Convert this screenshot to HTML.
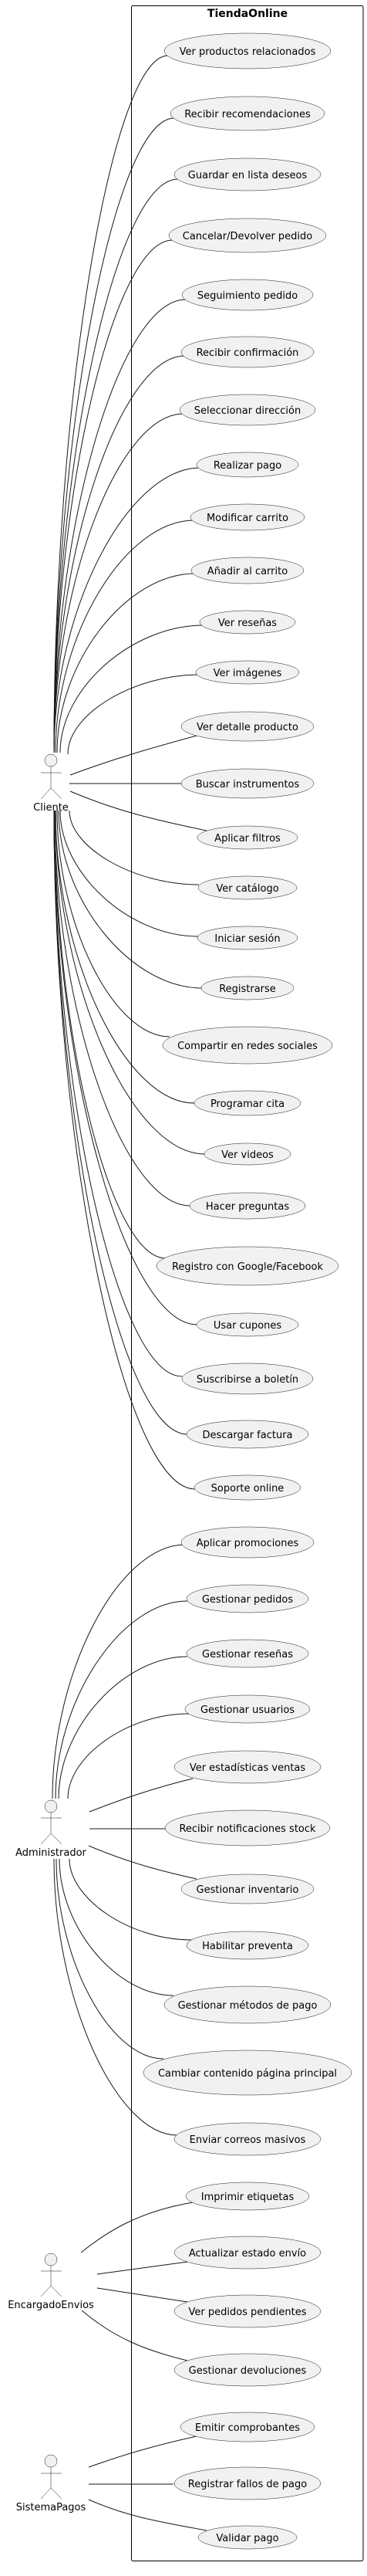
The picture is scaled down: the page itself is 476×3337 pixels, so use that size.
<!DOCTYPE html>
<html><head><meta charset="utf-8"><style>
html,body{margin:0;padding:0;background:#fff;}
svg{display:block;}
text{font-family:"DejaVu Sans","Liberation Sans",sans-serif;font-size:13px;fill:#000;}
.e{fill:#F1F1F1;stroke:#181818;stroke-width:0.5;}
.l{fill:none;stroke:#181818;stroke-width:1;}
.a{fill:none;stroke:#181818;stroke-width:0.5;}
</style></head><body>
<svg width="476" height="3337" viewBox="0 0 476 3337" xmlns="http://www.w3.org/2000/svg">
<rect x="170.5" y="7.5" width="300.5" height="3310" rx="2" fill="none" stroke="#000" stroke-width="1"/>
<text x="321" y="22" text-anchor="middle" style="font-weight:bold;font-size:14px">TiendaOnline</text>

<!-- connectors -->
<g class="l">
<path d="M70 975 C70 523 144 72 218 72"/>
<path d="M70 975 C70 564 148 153 226 153"/>
<path d="M70 975 C70 603 150 232 231 232"/>
<path d="M70 975 C70 643 147 311 224 311"/>
<path d="M70 975 C70 681 155 388 241 388"/>
<path d="M70 975 C70 718 155 461 240 461"/>
<path d="M70 975 C70 755 154 536 238 536"/>
<path d="M70 975 C70 790 165 606 260 606"/>
<path d="M72 975 C72 822 162 674 252 674"/>
<path d="M74 975 C74 859 163 743 253 743"/>
<path d="M78 975 C78 892 171 810 264 810"/>
<path d="M88 977 C88 925 173 874 259 874"/>
<path d="M91 1004 C150 982 200 968 255 953"/>
<path d="M90 1015 L235 1015"/>
<path d="M91 1025 C150 1050 200 1062 268 1076"/>
<path d="M90 1050 C90 1098 174 1146 258 1146"/>
<path d="M78 1050 C78 1131 167 1213 257 1213"/>
<path d="M76 1050 C76 1165 169 1280 262 1280"/>
<path d="M74 1050 C74 1196 147 1343 220 1343"/>
<path d="M72 1050 C72 1240 162 1429 252 1429"/>
<path d="M72 1050 C72 1272 169 1495 266 1495"/>
<path d="M71 1050 C71 1306 159 1562 247 1562"/>
<path d="M71 1050 C71 1340 143 1630 215 1630"/>
<path d="M70 1050 C70 1383 163 1716 256 1716"/>
<path d="M70 1050 C70 1416 153 1783 236 1783"/>
<path d="M70 1050 C70 1454 156 1858 243 1858"/>
<path d="M70 1050 C70 1489 161 1929 253 1929"/>

<path d="M68 2330 C68 2165 154 2001 240 2001"/>
<path d="M72 2330 C72 2202 157 2074 243 2074"/>
<path d="M76 2330 C76 2238 160 2146 243 2146"/>
<path d="M88 2330 C88 2275 166 2220 245 2220"/>
<path d="M116 2347 C160 2330 200 2316 250 2304"/>
<path d="M116 2369 L214 2369"/>
<path d="M115 2391 C160 2410 200 2422 255 2434"/>
<path d="M90 2408 C90 2460 169 2513 248 2513"/>
<path d="M77 2408 C77 2496 151 2585 225 2585"/>
<path d="M73 2408 C73 2537 142 2667 212 2667"/>
<path d="M70 2408 C70 2587 150 2766 230 2766"/>

<path d="M105 2918 C140 2890 180 2865 250 2853"/>
<path d="M126 2946 L243 2930"/>
<path d="M126 2964 L243 2982"/>
<path d="M106 2993 C150 3030 190 3045 243 3058"/>
<path d="M115 3196 C160 3180 200 3168 255 3156"/>
<path d="M115 3218 L225 3218"/>
<path d="M115 3238 C160 3258 200 3266 268 3278"/>
</g>

<!-- actors -->
<g class="a">
<circle cx="66" cy="985" r="8" fill="#F1F1F1"/>
<path d="M66 993 V1021 M53 1001 H80 M66 1021 L53 1035 M66 1021 L80 1035"/>
<circle cx="66" cy="2340" r="8" fill="#F1F1F1"/>
<path d="M66 2348 V2375 M53 2355 H80 M66 2375 L53 2389 M66 2375 L80 2389"/>
<circle cx="66" cy="2927" r="8" fill="#F1F1F1"/>
<path d="M66 2935 V2961 M53 2942 H80 M66 2961 L53 2975 M66 2961 L80 2975"/>
<circle cx="66" cy="3188" r="8" fill="#F1F1F1"/>
<path d="M66 3196 V3223 M53 3204 H80 M66 3223 L53 3237 M66 3223 L80 3237"/>
</g>
<text x="66" y="1050" text-anchor="middle">Cliente</text>
<text x="66" y="2404" text-anchor="middle">Administrador</text>
<text x="66" y="2990" text-anchor="middle">EncargadoEnvios</text>
<text x="66" y="3252" text-anchor="middle">SistemaPagos</text>

<!-- use cases -->
<g class="e">
<ellipse cx="321" cy="66" rx="108" ry="23"/>
<ellipse cx="321" cy="147" rx="100" ry="22"/>
<ellipse cx="321" cy="226" rx="95" ry="21"/>
<ellipse cx="321" cy="305" rx="102" ry="22"/>
<ellipse cx="321" cy="382" rx="85" ry="20"/>
<ellipse cx="321" cy="456" rx="86" ry="20"/>
<ellipse cx="321" cy="531" rx="88" ry="20"/>
<ellipse cx="321" cy="602" rx="66" ry="16"/>
<ellipse cx="321" cy="670" rx="74" ry="17"/>
<ellipse cx="321" cy="739" rx="73" ry="17"/>
<ellipse cx="321" cy="806" rx="62" ry="15"/>
<ellipse cx="321" cy="871" rx="67" ry="15"/>
<ellipse cx="321" cy="941" rx="86" ry="19"/>
<ellipse cx="321" cy="1015" rx="86" ry="19"/>
<ellipse cx="321" cy="1085" rx="65" ry="15"/>
<ellipse cx="321" cy="1150" rx="64" ry="15"/>
<ellipse cx="321" cy="1215" rx="65" ry="15"/>
<ellipse cx="321" cy="1280" rx="60" ry="15"/>
<ellipse cx="321" cy="1354" rx="110" ry="24"/>
<ellipse cx="321" cy="1429" rx="69" ry="16"/>
<ellipse cx="321" cy="1495" rx="56" ry="14"/>
<ellipse cx="321" cy="1562" rx="75" ry="17"/>
<ellipse cx="321" cy="1640" rx="118" ry="25"/>
<ellipse cx="321" cy="1716" rx="66" ry="15"/>
<ellipse cx="321" cy="1786" rx="85" ry="20"/>
<ellipse cx="321" cy="1858" rx="79" ry="18"/>
<ellipse cx="321" cy="1927" rx="69" ry="16"/>
<ellipse cx="321" cy="1998" rx="86" ry="20"/>
<ellipse cx="321" cy="2071" rx="79" ry="18"/>
<ellipse cx="321" cy="2142" rx="79" ry="18"/>
<ellipse cx="321" cy="2214" rx="81" ry="18"/>
<ellipse cx="321" cy="2289" rx="95" ry="21"/>
<ellipse cx="321" cy="2368" rx="107" ry="23"/>
<ellipse cx="321" cy="2447" rx="86" ry="19"/>
<ellipse cx="321" cy="2520" rx="79" ry="18"/>
<ellipse cx="321" cy="2597" rx="108" ry="24"/>
<ellipse cx="321" cy="2685" rx="135" ry="29"/>
<ellipse cx="321" cy="2771" rx="95" ry="21"/>
<ellipse cx="321" cy="2845" rx="80" ry="18"/>
<ellipse cx="321" cy="2918" rx="95" ry="21"/>
<ellipse cx="321" cy="2994" rx="95" ry="21"/>
<ellipse cx="321" cy="3070" rx="95" ry="21"/>
<ellipse cx="321" cy="3144" rx="87" ry="19"/>
<ellipse cx="321" cy="3217" rx="95" ry="21"/>
<ellipse cx="321" cy="3287" rx="64" ry="15"/>
</g>
<g text-anchor="middle">
<text x="321" y="71">Ver productos relacionados</text>
<text x="321" y="152">Recibir recomendaciones</text>
<text x="321" y="231">Guardar en lista deseos</text>
<text x="321" y="310">Cancelar/Devolver pedido</text>
<text x="321" y="387">Seguimiento pedido</text>
<text x="321" y="461">Recibir confirmación</text>
<text x="321" y="536">Seleccionar dirección</text>
<text x="321" y="607">Realizar pago</text>
<text x="321" y="675">Modificar carrito</text>
<text x="321" y="744">Añadir al carrito</text>
<text x="321" y="811">Ver reseñas</text>
<text x="321" y="876">Ver imágenes</text>
<text x="321" y="946">Ver detalle producto</text>
<text x="321" y="1020">Buscar instrumentos</text>
<text x="321" y="1090">Aplicar filtros</text>
<text x="321" y="1155">Ver catálogo</text>
<text x="321" y="1220">Iniciar sesión</text>
<text x="321" y="1285">Registrarse</text>
<text x="321" y="1359">Compartir en redes sociales</text>
<text x="321" y="1434">Programar cita</text>
<text x="321" y="1500">Ver videos</text>
<text x="321" y="1567">Hacer preguntas</text>
<text x="321" y="1645">Registro con Google/Facebook</text>
<text x="321" y="1721">Usar cupones</text>
<text x="321" y="1791">Suscribirse a boletín</text>
<text x="321" y="1863">Descargar factura</text>
<text x="321" y="1932">Soporte online</text>
<text x="321" y="2003">Aplicar promociones</text>
<text x="321" y="2076">Gestionar pedidos</text>
<text x="321" y="2147">Gestionar reseñas</text>
<text x="321" y="2219">Gestionar usuarios</text>
<text x="321" y="2294">Ver estadísticas ventas</text>
<text x="321" y="2373">Recibir notificaciones stock</text>
<text x="321" y="2452">Gestionar inventario</text>
<text x="321" y="2525">Habilitar preventa</text>
<text x="321" y="2602">Gestionar métodos de pago</text>
<text x="321" y="2690">Cambiar contenido página principal</text>
<text x="321" y="2776">Enviar correos masivos</text>
<text x="321" y="2850">Imprimir etiquetas</text>
<text x="321" y="2923">Actualizar estado envío</text>
<text x="321" y="2999">Ver pedidos pendientes</text>
<text x="321" y="3075">Gestionar devoluciones</text>
<text x="321" y="3149">Emitir comprobantes</text>
<text x="321" y="3222">Registrar fallos de pago</text>
<text x="321" y="3292">Validar pago</text>
</g>
</svg>
</body></html>
